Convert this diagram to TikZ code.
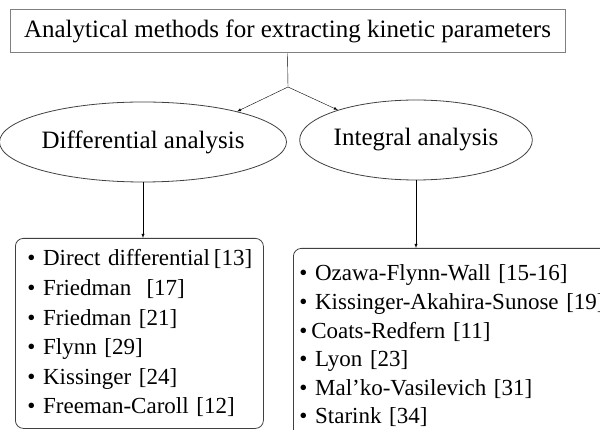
\documentclass[tikz,border=0pt]{standalone}
\usepackage{fontspec}
\setmainfont{Liberation Serif}
\usetikzlibrary{arrows,shapes,positioning}
\tikzset{
	basic/.style = {draw=black!75, line width=0.8pt},
	root/.style = {basic, draw=black!50, line width=1pt, rectangle, minimum width=555pt, minimum height=43pt, font=\fontsize{25}{28}\selectfont},
	branch/.style = {basic, ellipse, inner sep=0pt, minimum height=80pt, font=\fontsize{25}{28}\selectfont},
	listbox/.style = {basic, rectangle, rounded corners=8pt, anchor=north west, align=left}
}
% one line of a list, never broken
\newcommand{\meth}[1]{\mbox{\textbullet\ #1}}

\begin{document}
\begin{tikzpicture}[x=1pt, y=-1pt, >=latex]
	\useasboundingbox (0,0) rectangle (600,430);
	\clip (0,0) rectangle (600,430);

	% root of the tree
	\node[root] (root) at (287.5,31.5) {Analytical methods for extracting kinetic parameters};

	% the two kinds of analysis
	\node[branch, minimum width=250pt] (diff) at (143,142) {Differential analysis};
	\node[branch, minimum width=208pt] (integ) at (416,140) {Integral analysis};

	% the methods of each kind
	\node[listbox, inner xsep=12pt, text width=224pt, minimum height=190pt,
		font=\fontsize{23}{29.6}\selectfont] (diffm) at (15,238)
		{\meth{Direct differential\,[13]}\\
		 \meth{Friedman\ \ [17]}\\
		 \meth{Friedman [21]}\\
		 \meth{Flynn [29]}\\
		 \meth{Kissinger [24]}\\
		 \meth{Freeman-Caroll [12]}};
	\node[listbox, inner xsep=6pt, text width=325pt, minimum height=195pt,
		font=\fontsize{23}{28.6}\selectfont] (integm) at (293,248)
		{\meth{Ozawa-Flynn-Wall [15-16]}\\
		 \meth{Kissinger-Akahira-Sunose [19]}\\
		 \mbox{\textbullet\,Coats-Redfern [11]}\\
		 \meth{Lyon [23]}\\
		 \meth{Mal’ko-Vasilevich [31]}\\
		 \meth{Starink [34]}};

	% connectors
	\coordinate (split) at (288,87);
	\draw (root.south) -- (split);
	\draw[->] (split) -- (diff.18);
	\draw[->] (split) -- (integ.159);
	\draw[->] (diff.south) -- (diff.south |- diffm.north);
	\draw[->] (integ.south) -- (integ.south |- integm.north);
\end{tikzpicture}
\end{document}
